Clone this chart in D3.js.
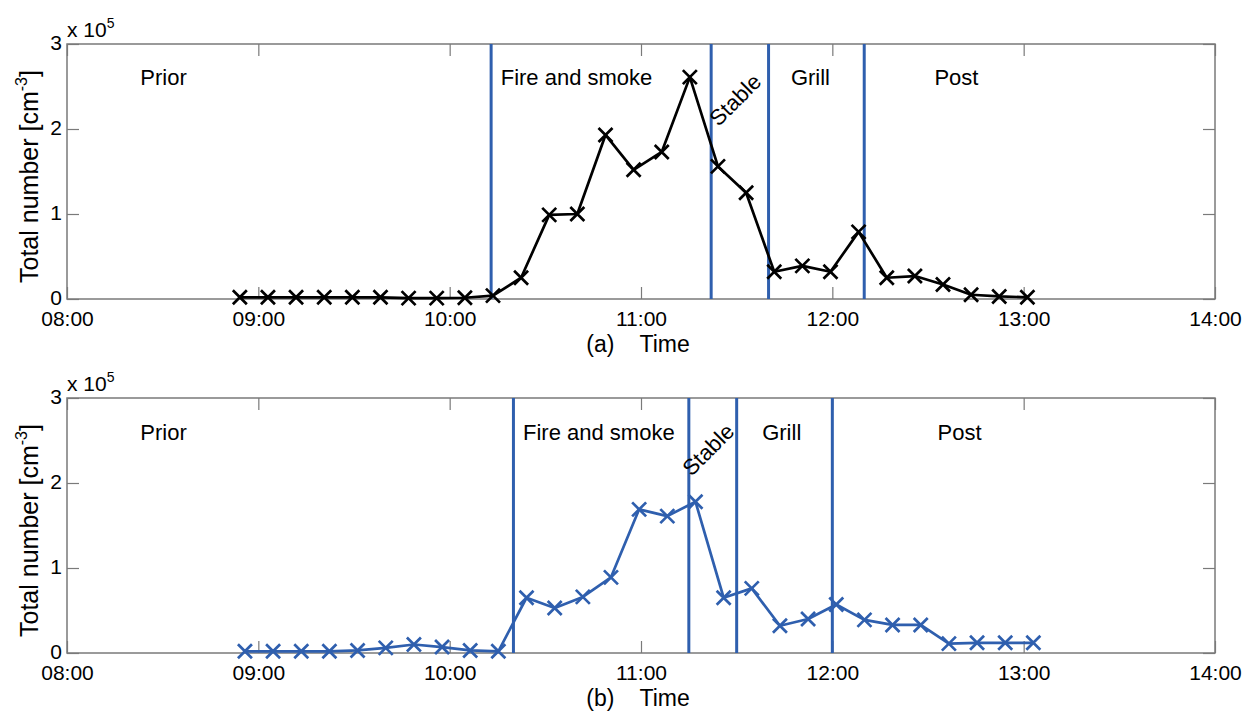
<!DOCTYPE html>
<html>
<head>
<meta charset="utf-8">
<script src="https://cdn.jsdelivr.net/npm/d3@7"></script>
<style>
  html, body { margin: 0; padding: 0; background: #fff; }
  svg { display: block; font-family: "Liberation Sans", Arial, sans-serif; }
</style>
</head>
<body>
<svg id="chart" width="1245" height="711"></svg>
<script>
// ---------------- DATA ----------------
const xTickLabels = ["08:00", "09:00", "10:00", "11:00", "12:00", "13:00", "14:00"];
const yTickValues = [0, 100000, 200000, 300000];

const timesA = ["08:54:12","09:03:01","09:11:50","09:20:40","09:29:29","09:38:18","09:47:07","09:55:56",
  "10:04:46","10:13:35","10:22:24","10:31:13","10:40:02","10:48:52","10:57:41","11:06:30","11:15:19",
  "11:24:08","11:32:58","11:41:47","11:50:36","11:59:25","12:08:14","12:17:04","12:25:53","12:34:42",
  "12:43:31","12:52:20","13:01:10"];
const valuesA = [2000, 2000, 2000, 2000, 2000, 2000, 1000, 1000, 1500, 4000, 25000, 99000, 100000,
  193000, 152000, 173000, 261000, 156000, 125000, 32000, 39000, 32000, 79000, 25000, 27000, 17000,
  5000, 3000, 2000];

const timesB = ["08:55:48","09:04:38","09:13:28","09:22:17","09:31:07","09:39:57","09:48:47","09:57:37",
  "10:06:26","10:15:16","10:24:06","10:32:56","10:41:46","10:50:35","10:59:25","11:08:15","11:17:05",
  "11:25:55","11:34:44","11:43:34","11:52:24","12:01:14","12:10:04","12:18:53","12:27:43","12:36:33",
  "12:45:23","12:54:13","13:03:02"];
const valuesB = [2000, 2000, 2000, 2000, 3000, 6000, 10000, 7000, 3000, 2000, 65000, 53000, 66000,
  89000, 169000, 161000, 178000, 65000, 76000, 32000, 40000, 57000, 39000, 33000, 33000, 11000,
  12000, 12000, 12000];

const phaseLinesA = ["10:13:00", "11:22:00", "11:40:00", "12:10:00"];
const phaseLinesB = ["10:20:00", "11:15:00", "11:30:00", "12:00:00"];

const phaseNames = ["Prior", "Fire and smoke", "Stable", "Grill", "Post"];
const phaseLabelTimesA = ["08:23:00", "10:16:00", "11:24:20", "11:47:00", "12:32:00"];
const phaseLabelTimesB = ["08:23:00", "10:23:00", "11:15:50", "11:38:00", "12:33:00"];
const phaseLabelValuesA = [252000, 252000, 202000, 252000, 252000];
const phaseLabelValuesB = [251000, 251000, 207000, 251000, 251000];

const panelTitles = ["(a)    Time", "(b)    Time"];
const yAxisTitle = "Total number [cm";
const yAxisSup = "-3";
// --------------------------------------

const parse = d3.timeParse("%H:%M:%S");
const parseHM = d3.timeParse("%H:%M");
const fmt = d3.timeFormat("%H:%M");

const svg = d3.select("#chart");
const left = 67, right = 1215;
const BLUE = "#2f5fae";
const FRAME = "#7a7a7a";

const x = d3.scaleTime()
  .domain([parseHM(xTickLabels[0]), parseHM(xTickLabels[xTickLabels.length - 1])])
  .range([left, right]);
const xTicks = xTickLabels.map(parseHM);

const panels = [
  { top: 44, bottom: 299, times: timesA, values: valuesA, lines: phaseLinesA,
    labT: phaseLabelTimesA, labV: phaseLabelValuesA, color: "#000", title: panelTitles[0] },
  { top: 398, bottom: 653, times: timesB, values: valuesB, lines: phaseLinesB,
    labT: phaseLabelTimesB, labV: phaseLabelValuesB, color: BLUE, title: panelTitles[1] }
];

panels.forEach(p => {
  const y = d3.scaleLinear().domain([0, 300000]).range([p.bottom, p.top]);
  const g = svg.append("g");

  // frame
  g.append("rect")
    .attr("x", left).attr("y", p.top)
    .attr("width", right - left).attr("height", p.bottom - p.top)
    .attr("fill", "none").attr("stroke", FRAME).attr("stroke-width", 1.5);

  // axes
  const styleAxis = sel => {
    sel.select(".domain").remove();
    sel.selectAll(".tick line").attr("stroke", FRAME).attr("stroke-width", 1.2);
    sel.selectAll(".tick text").attr("fill", "#000").attr("font-size", 21)
      .attr("font-family", "'Liberation Sans', Arial, sans-serif");
  };
  g.append("g").attr("transform", `translate(0,${p.bottom})`)
    .call(d3.axisBottom(x).tickValues(xTicks).tickFormat(fmt).tickSize(-12).tickPadding(12))
    .call(styleAxis);
  g.append("g").attr("transform", `translate(0,${p.top})`)
    .call(d3.axisTop(x).tickValues(xTicks).tickFormat("").tickSize(-12))
    .call(styleAxis);
  g.append("g").attr("transform", `translate(${left},0)`)
    .call(d3.axisLeft(y).tickValues(yTickValues).tickFormat(d => d / 100000).tickSize(-12).tickPadding(5))
    .call(styleAxis)
    .call(sel => sel.selectAll(".tick text").attr("dy", "0.28em"));

  g.append("g").attr("transform", `translate(${right},0)`)
    .call(d3.axisRight(y).tickValues(yTickValues).tickFormat("").tickSize(-12))
    .call(styleAxis);

  // exponent
  const ex = g.append("text").attr("x", left).attr("y", p.top - 7)
    .attr("font-size", 21).attr("fill", "#000");
  ex.append("tspan").text("x 10");
  ex.append("tspan").attr("font-size", 14).attr("dy", -9).text("5");

  // y title
  const yt = g.append("text")
    .attr("transform", `translate(38,${p.bottom - 16}) rotate(-90)`)
    .attr("text-anchor", "start").attr("font-size", 25).attr("fill", "#000");
  yt.append("tspan").text(yAxisTitle);
  yt.append("tspan").attr("font-size", 16).attr("dy", -11).text(yAxisSup);
  yt.append("tspan").attr("dy", 11).text("]");

  // x title
  g.append("text").attr("x", (left + right) / 2 - 3).attr("y", p.bottom + 53)
    .attr("text-anchor", "middle").attr("font-size", 23).attr("fill", "#000")
    .attr("xml:space", "preserve").style("white-space", "pre")
    .text(p.title);

  // phase lines
  g.selectAll(".phase").data(p.lines).enter().append("line")
    .attr("x1", d => x(parse(d))).attr("x2", d => x(parse(d)))
    .attr("y1", p.top).attr("y2", p.bottom)
    .attr("stroke", BLUE).attr("stroke-width", 3);

  // phase labels
  phaseNames.forEach((name, i) => {
    const px = x(parse(p.labT[i])), py = y(p.labV[i]);
    const t = g.append("text").attr("font-size", 22).attr("fill", "#000").text(name);
    if (name === "Stable") t.attr("transform", `translate(${px},${py}) rotate(-45)`);
    else t.attr("x", px).attr("y", py);
  });

  // data line
  const pts = p.times.map((t, i) => [parse(t), p.values[i]]);
  g.append("path").datum(pts)
    .attr("fill", "none").attr("stroke", p.color).attr("stroke-width", 2.7)
    .attr("stroke-linejoin", "round")
    .attr("d", d3.line().x(d => x(d[0])).y(d => y(d[1])));

  // markers
  const s = 7;
  g.selectAll(".mk").data(pts).enter().append("path")
    .attr("transform", d => `translate(${x(d[0])},${y(d[1])})`)
    .attr("d", `M${-s},${-s}L${s},${s}M${-s},${s}L${s},${-s}`)
    .attr("stroke", p.color).attr("stroke-width", 2.7).attr("fill", "none");
});
</script>
</body>
</html>
